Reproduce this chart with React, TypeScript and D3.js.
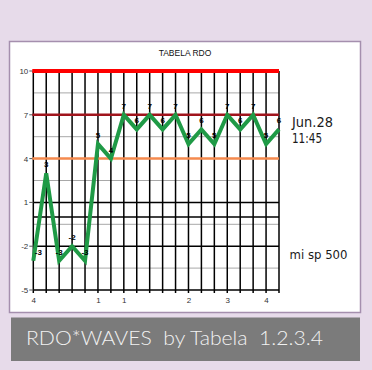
import React from "react";
import * as d3 from "d3";

const values = [-3, 3, -3, -2, -3, 5, 4, 7, 6, 7, 6, 7, 5, 6, 5, 7, 6, 7, 5, 6];
const xLabels = ["4", "", "", "", "", "1", "", "1", "", "", "", "", "2", "", "", "3", "", "", "4", ""];
const yTicks = [10, 7, 4, 1, -2, -5];
const majorLines = [1, 0, -2];
const minorLines = [8.5, 5.5, 2.5, -0.5, -3.5];
const levelLines = [
  { v: 10, color: "#ff0000", w: 4 },
  { v: 7, color: "#a0141c", w: 2.5 },
  { v: 4, color: "#f58a4e", w: 2.5 },
];
const title = "TABELA RDO";
const dateText = ["Jun.28", "11:45"];
const sideNote = "mi sp 500";
const banner = "RDO*WAVES  by Tabela  1.2.3.4";

export default function App() {
  const left = 33.3, right = 279, top = 71, bottom = 290;
  const x = d3.scalePoint<number>().domain(d3.range(values.length)).range([left, right]);
  const y = d3.scaleLinear().domain([-5, 10]).range([bottom, top]);
  const line = d3.line<number>().x((_, i) => x(i)!).y((d) => y(d));
  const axisFont = "Liberation Sans, Arial, sans-serif";

  return (
    <svg width={372} height={370} style={{ position: "absolute", left: 0, top: 0 }} fontFamily={axisFont}>
      <rect x={0} y={0} width={372} height={370} fill="#e7dbea" />
      <rect x={9.5} y={41.5} width={351} height={271} fill="#ffffff" stroke="#a58fae" strokeWidth={1.5} />
      <text x={185} y={55.5} fontSize={8.5} textAnchor="middle" fill="#111">{title}</text>

      {minorLines.map((v) => (
        <line key={"mn" + v} x1={left} x2={right} y1={y(v)} y2={y(v)} stroke="#a8a8a8" strokeWidth={1} />
      ))}
      {majorLines.map((v) => (
        <line key={"mj" + v} x1={left} x2={right} y1={y(v)} y2={y(v)} stroke="#000" strokeWidth={1.5} />
      ))}
      {values.map((_, i) => (
        <line key={"v" + i} x1={x(i)} x2={x(i)} y1={top} y2={bottom + 3} stroke="#000" strokeWidth={1.5} />
      ))}
      <line x1={left} x2={right} y1={bottom} y2={bottom} stroke="#000" strokeWidth={1.5} />
      {yTicks.map((v) => (
        <g key={"yt" + v}>
          <line x1={left - 4} x2={left} y1={y(v)} y2={y(v)} stroke="#555" strokeWidth={1} />
          <text x={left - 5} y={y(v) + 3} fontSize={8} textAnchor="end" fill="#333">{v}</text>
        </g>
      ))}
      {levelLines.map((l) => (
        <line key={"l" + l.v} x1={left - 1} x2={right} y1={y(l.v)} y2={y(l.v)} stroke={l.color} strokeWidth={l.w} />
      ))}
      {xLabels.map((t, i) =>
        t ? (
          <text key={"xl" + i} x={x(i)! + 0.5} y={303} fontSize={8} textAnchor="middle" fill="#333">{t}</text>
        ) : null
      )}
      <path d={line(values) || ""} fill="none" stroke="#1f9a46" strokeWidth={4} strokeLinejoin="miter" />
      {values.map((v, i) => (
        <text
          key={"dl" + i}
          x={Math.max(x(i)!, left + 5)}
          y={y(v) - 6}
          fontSize={8}
          fontWeight="bold"
          textAnchor="middle"
          fill="#000"
        >
          {v}
        </text>
      ))}

      <text x={292} y={126.5} fontSize={14} fill="#1a1a1a" fontFamily="DejaVu Sans, sans-serif" textLength={41} lengthAdjust="spacingAndGlyphs">{dateText[0]}</text>
      <text x={292} y={143.3} fontSize={13.5} fill="#1a1a1a" fontFamily="DejaVu Sans, sans-serif" textLength={30} lengthAdjust="spacingAndGlyphs">{dateText[1]}</text>
      <text x={289.5} y={259} fontSize={13} fill="#1a1a1a" fontFamily="DejaVu Sans, sans-serif" textLength={58} lengthAdjust="spacingAndGlyphs">{sideNote}</text>

      <rect x={11} y={317.5} width={349} height={43.5} fill="#7b7b7b" />
      <text x={26} y={345} fontSize={19} fill="#f2f2f2" fontFamily="Lato, sans-serif" fontWeight={300} textLength={297} lengthAdjust="spacingAndGlyphs" xmlSpace="preserve">{banner}</text>
    </svg>
  );
}
